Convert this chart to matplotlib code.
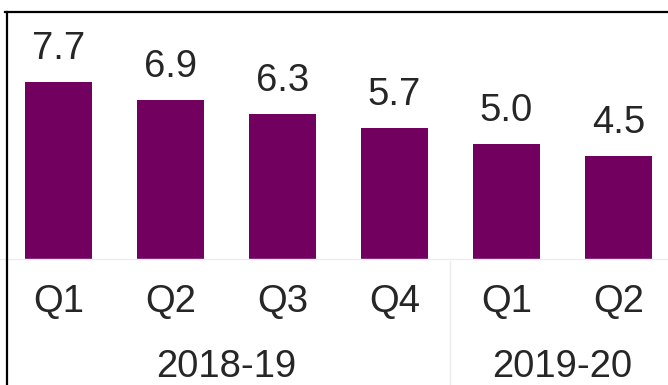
import matplotlib
matplotlib.use("Agg")
import matplotlib.pyplot as plt
from matplotlib.lines import Line2D

quarters = ["Q1", "Q2", "Q3", "Q4", "Q1", "Q2"]
values = [7.7, 6.9, 6.3, 5.7, 5.0, 4.5]
years = ["2018-19", "2019-20"]
year_groups = [[0, 1, 2, 3], [4, 5]]

BAR_COLOR = "#71005F"
TEXT_COLOR = "#262626"
FONT = "Liberation Sans"
FS = 27.5

W, H = 668, 385
fig = plt.figure(figsize=(W / 100, H / 100), dpi=100)
fig.patch.set_facecolor("white")

base_px = 126  # baseline height above figure bottom, px
ax = fig.add_axes([0, base_px / H, 1, 1 - base_px / H])
x = list(range(len(values)))
ax.bar(x, values, width=0.6, color=BAR_COLOR)
ax.set_xlim(-0.522, 5.442)
px_per_unit = 23.0
ytop = (H - base_px) / px_per_unit
ax.set_ylim(0, ytop)

for s in ["top", "left", "right"]:
    ax.spines[s].set_visible(False)
ax.spines["bottom"].set_color("#ececec")
ax.spines["bottom"].set_linewidth(1)
ax.set_yticks([])
ax.set_xticks(x, quarters)
ax.tick_params(axis="x", length=0, pad=18, labelsize=FS, labelcolor=TEXT_COLOR)
for lbl in ax.get_xticklabels():
    lbl.set_family(FONT)
ax.patch.set_alpha(0)

for xi, v in zip(x, values):
    ax.annotate(f"{v:.1f}", (xi, v), xytext=(0, 16.5), textcoords="offset points",
                ha="center", va="baseline", fontsize=FS, family=FONT, color=TEXT_COLOR)

for name, grp in zip(years, year_groups):
    cx = (grp[0] + grp[-1]) / 2
    ax.annotate(name, (cx, 0), xycoords=("data", "data"), xytext=(0, -85),
                textcoords="offset points", ha="center", va="baseline",
                fontsize=FS, family=FONT, color=TEXT_COLOR, annotation_clip=False)

# light separator between the two fiscal years
ybot = -base_px / px_per_unit
ax.plot([3.5, 3.5], [-0.1, ybot], color="#ececec", lw=1, clip_on=False)

# frame lines along the top and left
fig.add_artist(Line2D([5 / W, 1], [1 - 12 / H, 1 - 12 / H], transform=fig.transFigure,
                      color="black", lw=1.6))
fig.add_artist(Line2D([7 / W, 7 / W], [0, 1 - 12 / H], transform=fig.transFigure,
                      color="black", lw=1.6))

fig.savefig("out.png", dpi=100)
